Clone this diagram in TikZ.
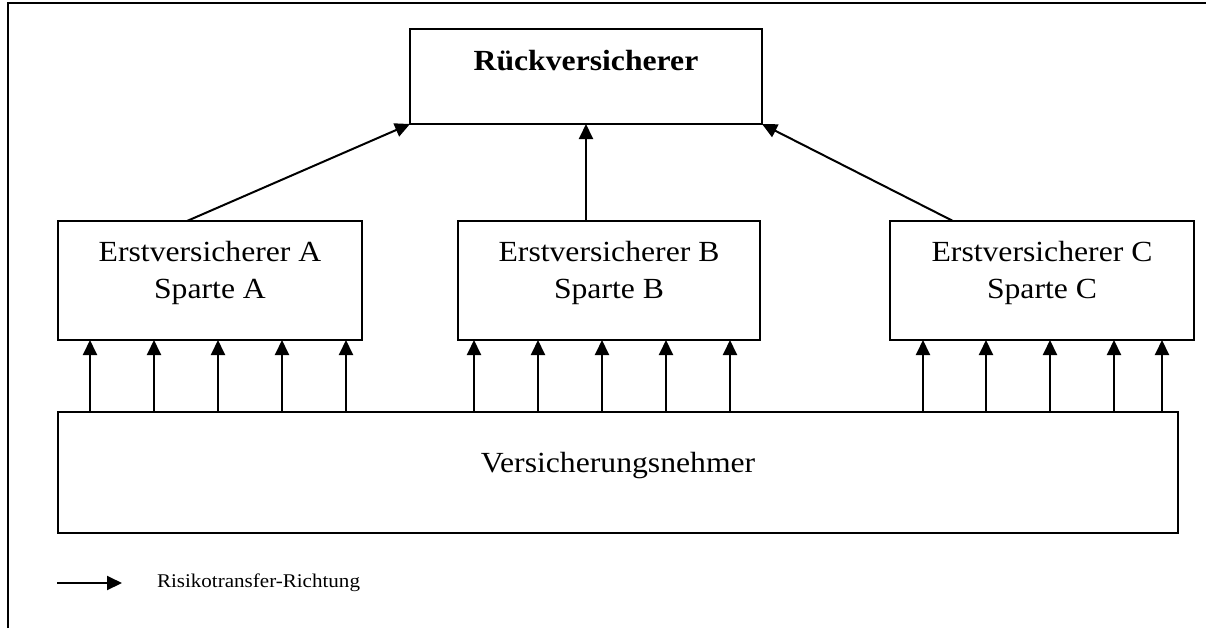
\documentclass[tikz,border=0pt]{standalone}
\usepackage{fontspec}
\setmainfont[FakeStretch=1.085]{Liberation Serif}
\usetikzlibrary{arrows.meta,calc}
\begin{document}
\begin{tikzpicture}[x=0.5pt,y=-0.5pt,
  line width=1pt,
  box/.style={draw=black, line width=1pt, rectangle, inner sep=0pt, outer sep=0pt},
  txt/.style={inner sep=0pt, outer sep=0pt, align=center,
    font=\fontsize{14.6pt}{18.5pt}\selectfont},
  small/.style={inner sep=0pt, outer sep=0pt, font=\fontsize{9.7pt}{11pt}\selectfont},
  arr/.style={-{Triangle[length=7.5pt,width=7pt]}, line width=1pt}]
\useasboundingbox (0,0) rectangle (1206,628);

% frame
\draw[line width=1pt] (8,628) -- (8,3) -- (1206,3);

% boxes
\node[box, minimum width=176pt, minimum height=47.5pt] (rv) at (586,76.5) {};
\node[box, minimum width=152pt, minimum height=59.5pt] (ea) at (210,280.5) {};
\node[box, minimum width=151pt, minimum height=59.5pt] (eb) at (609,280.5) {};
\node[box, minimum width=152pt, minimum height=59.5pt] (ec) at (1042,280.5) {};
\node[box, minimum width=560pt, minimum height=60.5pt] (vn) at (618,472.5) {};

% labels
\node[txt, anchor=base] (rvt) at (586,70) {\textbf{Rückversicherer}};
\node[txt, anchor=base] (eat1) at (210,261) {Erstversicherer A};
\node[txt, anchor=base] (eat2) at (210,298) {Sparte A};
\node[txt, anchor=base] (ebt1) at (609,261) {Erstversicherer B};
\node[txt, anchor=base] (ebt2) at (609,298) {Sparte B};
\node[txt, anchor=base] (ect1) at (1042,261) {Erstversicherer C};
\node[txt, anchor=base] (ect2) at (1042,298) {Sparte C};
\node[txt, anchor=base] (vnt) at (618,472) {Versicherungsnehmer};

% primary insurers to reinsurer
\draw[arr] ($(ea.north west)+(129,0)$) -- (rv.south west);
\draw[arr] (eb.north -| rv.south) -- (rv.south);
\draw[arr] ($(ec.north west)+(63,0)$) -- (rv.south east);

% policyholders to primary insurers
\foreach \x in {90,154,218,282,346} {
  \coordinate (t) at (\x,0);
  \draw[arr] (vn.north -| t) -- (ea.south -| t);
}
\foreach \x in {474,538,602,666,730} {
  \coordinate (t) at (\x,0);
  \draw[arr] (vn.north -| t) -- (eb.south -| t);
}
\foreach \x in {923,986,1050,1114,1162} {
  \coordinate (t) at (\x,0);
  \draw[arr] (vn.north -| t) -- (ec.south -| t);
}

% legend
\coordinate (lg0) at (57,583);
\coordinate (lg1) at (122,583);
\draw[arr] (lg0) -- (lg1);
\node[small, anchor=base west] (lgt) at (157,587) {Risikotransfer-Richtung};
\end{tikzpicture}
\end{document}
